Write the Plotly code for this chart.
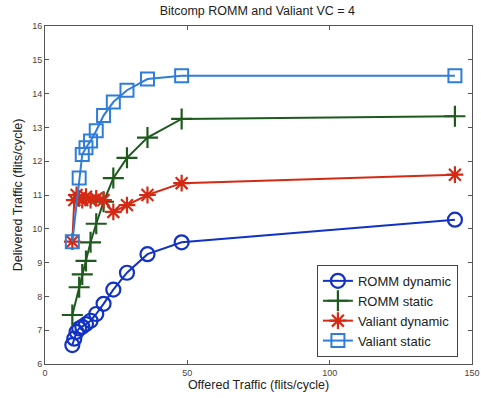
import plotly.graph_objects as go

x_full = [9.6, 10.29, 11.08, 12, 13.09, 14.4, 16, 18, 20.57, 24, 28.8, 36, 48, 144]
romm_dyn = [6.56, 6.75, 6.95, 7.05, 7.1, 7.18, 7.28, 7.48, 7.78, 8.2, 8.7, 9.25, 9.6, 10.27]

x_romm_static = [9.6, 12, 13.09, 14.4, 16, 18, 20.57, 24, 28.8, 36, 48, 144]
romm_static = [7.45, 8.27, 8.65, 9.05, 9.6, 10.15, 10.8, 11.5, 12.1, 12.7, 13.25, 13.33]

valiant_dyn = [9.62, 10.85, 11.0, 10.9, 10.85, 10.95, 10.85, 10.9, 10.85, 10.5, 10.7, 11.0, 11.35, 11.6]

x_valiant_static = [9.6, 12, 13.09, 14.4, 16, 18, 20.57, 24, 28.8, 36, 48, 144]
valiant_static = [9.62, 11.5, 12.2, 12.4, 12.6, 12.9, 13.35, 13.75, 14.1, 14.43, 14.53, 14.53]

names = ["ROMM dynamic", "ROMM static", "Valiant dynamic", "Valiant static"]
colors = ["#1232c4", "#1e5a1e", "#d42a14", "#2f7ddb"]

fig = go.Figure()
fig.add_trace(go.Scatter(x=x_full, y=romm_dyn, name=names[0], mode="lines+markers",
                         line=dict(color=colors[0], width=2),
                         marker=dict(symbol="circle-open", size=14, color=colors[0], line=dict(width=2.2))))
fig.add_trace(go.Scatter(x=x_romm_static, y=romm_static, name=names[1], mode="lines+markers",
                         line=dict(color=colors[1], width=2),
                         marker=dict(symbol="cross-thin-open", size=15, color=colors[1], line=dict(width=2.2))))
fig.add_trace(go.Scatter(x=x_full, y=valiant_dyn, name=names[2], mode="lines+markers",
                         line=dict(color=colors[2], width=2),
                         marker=dict(symbol="asterisk-open", size=14, color=colors[2], line=dict(width=2.2))))
fig.add_trace(go.Scatter(x=x_valiant_static, y=valiant_static, name=names[3], mode="lines+markers",
                         line=dict(color=colors[3], width=2),
                         marker=dict(symbol="square-open", size=13, color=colors[3], line=dict(width=2))))

axis_common = dict(showgrid=False, zeroline=False, showline=True, linecolor="#555555", linewidth=1,
                   mirror="ticks", ticks="inside", ticklen=4, tickcolor="#555555", automargin=False,
                   tickfont=dict(size=9, color="#444444", family="Liberation Sans, Arial, sans-serif"))

fig.update_layout(
    width=481, height=398,
    margin=dict(l=45, r=9, t=26, b=34, autoexpand=False),
    paper_bgcolor="white", plot_bgcolor="white",
    font=dict(family="Liberation Sans, Arial, sans-serif", color="#222222"),
    title=dict(text="Bitcomp ROMM and Valiant VC = 4", x=0.535, xanchor="center", y=0.985, yanchor="top",
               font=dict(size=12.5, color="#222222")),
    xaxis=dict(range=[0, 150], tickvals=[0, 50, 100, 150],
               title=dict(text="Offered Traffic (flits/cycle)", font=dict(size=12.5), standoff=2),
               **axis_common),
    yaxis=dict(range=[6, 16], tickvals=list(range(6, 17)),
               title=dict(text="Delivered Traffic (flits/cycle)", font=dict(size=12.5), standoff=6),
               **axis_common),
    legend=dict(x=0.967, xanchor="right", y=0.021, yanchor="bottom",
                bgcolor="white", bordercolor="#444444", borderwidth=1,
                font=dict(size=13, color="#222222"), tracegroupgap=0, itemwidth=30),
    showlegend=True,
)

fig.write_html("out.html")
